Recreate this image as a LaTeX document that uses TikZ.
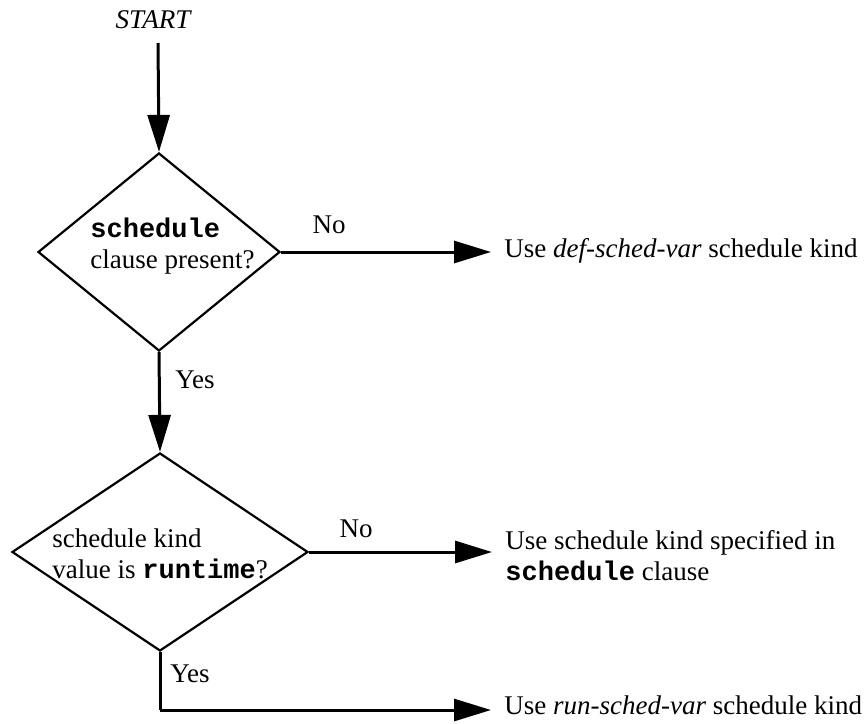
\documentclass[tikz,border=0pt]{standalone}
\usepackage{fontspec}
\setmainfont{Liberation Serif}
\setmonofont{Liberation Mono}
\usetikzlibrary{arrows.meta,shapes.geometric}
\tikzset{
  flow/.style={line width=1.5pt,-{Triangle[length=18.5pt,width=11pt]}},
  gapflow/.style={flow,shorten >=6.5pt},
  plain/.style={line width=1.5pt},
  decision/.style={draw,diamond,line width=1.1pt,inner sep=0pt},
  lbl/.style={inner sep=0pt,font=\fontsize{13.5}{15.5}\selectfont},
  txt/.style={inner sep=0pt,align=left,font=\fontsize{13.5}{15.5}\selectfont}
}
\newcommand{\kw}[1]{\texttt{\bfseries #1}}
\begin{document}
\begin{tikzpicture}[x=0.5pt,y=-0.5pt]
\useasboundingbox (0,0) rectangle (866,723);
\node[lbl,anchor=base] (start) at (153,28) {\itshape START};
\coordinate (s0) at (158,43);
\node[decision,minimum width=121pt,minimum height=99pt] (d1) at (159,252) {};
\node[txt,anchor=west] (t1) at (90,246) {\kw{schedule}\\clause present?};
\node[decision,minimum width=148pt,minimum height=99pt] (d2) at (160,552) {};
\node[txt,anchor=west] (t2) at (52,554) {schedule kind\\value is \kw{runtime}?};
\node[txt,anchor=west] (r1) at (504,251) {Use \textit{def-sched-var} schedule kind};
\node[txt,anchor=west] (r2) at (505,556) {Use schedule kind specified in\\\kw{schedule} clause};
\node[txt,anchor=base west] (r3) at (504,714) {Use \textit{run-sched-var} schedule kind};
\coordinate (c3) at (160,710);
\draw[flow] (s0) -- (d1.north);
\draw[gapflow] (d1.east) -- (d1.east -| r1.west);
\draw[flow] (d1.south) -- (d2.north);
\draw[gapflow] (d2.east) -- (d2.east -| r2.west);
\draw[plain] (d2.south) -- (c3);
\draw[gapflow] (c3) -- (c3 -| r3.west);
\node[lbl,anchor=base] (no1) at (329,233) {No};
\node[lbl,anchor=base west] (yes1) at (175,388) {Yes};
\node[lbl,anchor=base] (no2) at (356,537) {No};
\node[lbl,anchor=base west] (yes2) at (170,682) {Yes};
\end{tikzpicture}
\end{document}
